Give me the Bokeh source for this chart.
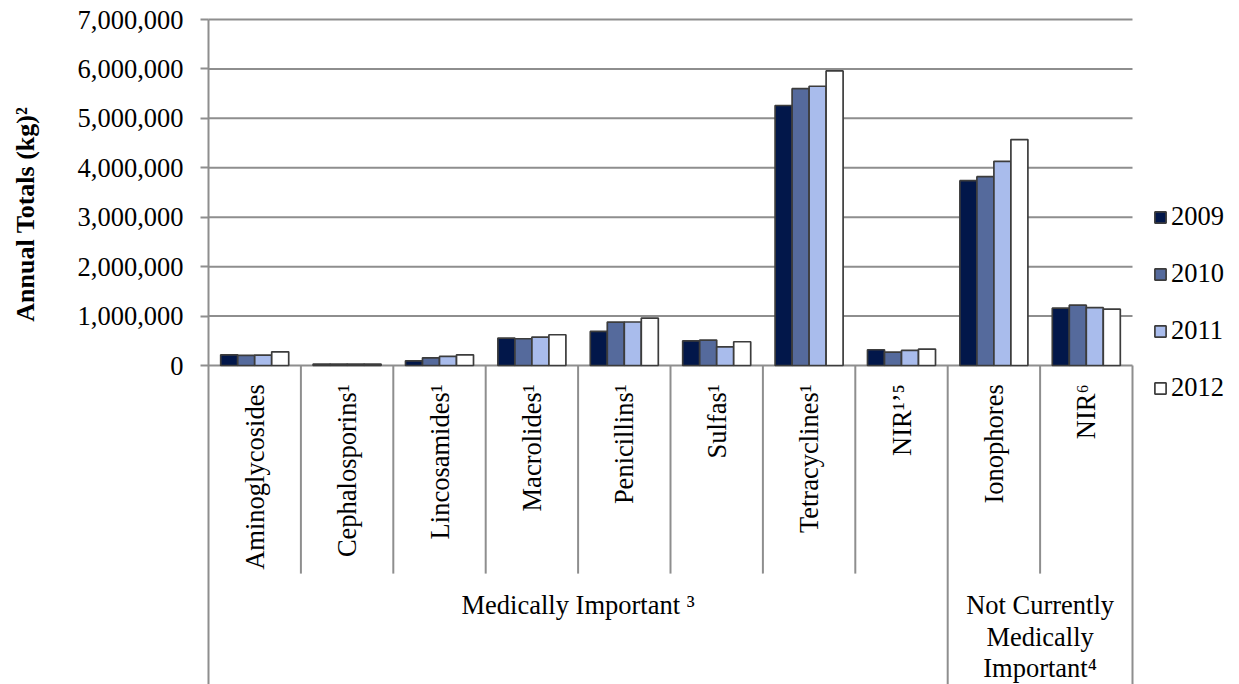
import math
from bokeh.plotting import figure
from bokeh.models import (Range1d, FixedTicker, NumeralTickFormatter,
                          Legend, LegendItem, ColumnDataSource)
from bokeh.core.properties import value
from bokeh.embed import file_html
from bokeh.resources import INLINE

# ---------------- data ----------------
categories = ["Aminoglycosides", "Cephalosporins¹", "Lincosamides¹", "Macrolides¹",
              "Penicillins¹", "Sulfas¹", "Tetracyclines¹", "NIR¹ʼ⁵", "Ionophores", "NIR⁶"]

years = ["2009", "2010", "2011", "2012"]
v2009 = [216000, 28000, 95000, 554000, 690000, 500000, 5260000, 319000, 3740000, 1160000]
v2010 = [203000, 29000, 155000, 541000, 879000, 514000, 5600000, 271000, 3820000, 1220000]
v2011 = [210000, 30000, 183000, 575000, 880000, 377000, 5650000, 305000, 4130000, 1170000]
v2012 = [277000, 29000, 216000, 622000, 960000, 480000, 5960000, 332000, 4570000, 1140000]
series = [v2009, v2010, v2011, v2012]

group_labels = ["Medically Important ³", "Not Currently\nMedically\nImportant⁴"]
group_spans = [(0, 8), (8, 10)]   # category index spans of each group

y_ticks = [0, 1000000, 2000000, 3000000, 4000000, 5000000, 6000000, 7000000]
y_title = "Annual Totals (kg)²"

# ---------------- style / layout ----------------
colors = ["#02174A", "#556A9C", "#A9BCEC", "#FFFFFF"]
edge = "#3C3C3C"
grid_col = "#8E8E8E"
FONT = "Liberation Serif"
FS = "26.5px"

n = len(categories)
W, H = 1239, 684
left_px, top_px, base_px = 208, 19, 365   # plot-area left, 7M line, zero line
cat_px = 92.4                               # one category slot in pixels
px_per_unit_y = (base_px - top_px) / 7000000.0
x_start = -left_px / cat_px
x_end = (W - left_px) / cat_px
y_top = 7000000 + top_px / px_per_unit_y
y_bottom = -(H - base_px) / px_per_unit_y
bar_w = 0.184
offsets = [(-1.5 + i) * bar_w for i in range(4)]
centers = [i + 0.5 for i in range(n)]

p = figure(width=W, height=H, x_range=Range1d(x_start, x_end),
           y_range=Range1d(y_bottom, y_top), output_backend="svg", toolbar_location=None,
           min_border=0, min_border_left=0, min_border_right=0, min_border_top=0,
           min_border_bottom=0)
p.outline_line_color = None
p.background_fill_color = "white"
p.border_fill_color = "white"

# horizontal gridlines over the category area only
p.xgrid.visible = False
p.ygrid.visible = False
p.segment(x0=[0] * len(y_ticks), x1=[n] * len(y_ticks), y0=y_ticks, y1=y_ticks,
          line_color=grid_col, line_width=2)

renderers = []
for y, s, off, c in zip(years, series, offsets, colors):
    src = ColumnDataSource(dict(x=[cx + off for cx in centers], top=s))
    r = p.vbar(x="x", top="top", width=bar_w, bottom=0, source=src,
               fill_color=c, line_color=edge, line_width=1.7)
    renderers.append(r)

# axes
p.xaxis.visible = False
ya = p.yaxis[0]
ya.fixed_location = 0
ya.bounds = (y_bottom, 7000000)
ya.ticker = FixedTicker(ticks=y_ticks)
ya.formatter = NumeralTickFormatter(format="0,0")
ya.major_label_text_font = FONT
ya.major_label_text_font_size = FS
ya.major_label_text_color = "black"
ya.major_label_standoff = 17
ya.major_tick_out = 8
ya.major_tick_in = 0
ya.minor_tick_out = 0
ya.minor_tick_in = 0
ya.axis_line_color = grid_col
ya.axis_line_width = 2
ya.major_tick_line_color = grid_col
ya.major_tick_line_width = 2

# category separators below the baseline
group_edges = sorted(set([e for s in group_spans for e in s]))
inner = [k for k in range(1, n) if k not in group_edges]
outer = [k for k in group_edges if k > 0]
sep_short = -4210000
p.segment(x0=inner, x1=inner, y0=[0] * len(inner), y1=[sep_short] * len(inner),
          line_color=grid_col, line_width=2)
p.segment(x0=outer, x1=outer, y0=[0] * len(outer), y1=[y_bottom] * len(outer),
          line_color=grid_col, line_width=2)

# rotated category labels
p.text(x=centers, y=[-380000] * n, text=categories, angle=math.pi / 2,
       text_align="right", text_baseline="middle", text_font=value(FONT),
       text_font_size=FS, text_color="black")

# group labels
gx = [(a + b) / 2 for a, b in group_spans]
p.text(x=gx, y=[-4550000] * len(gx), text=group_labels, text_align="center",
       text_baseline="top", text_font=value(FONT), text_font_size=FS,
       text_color="black", text_line_height=1.05)

# y axis title
p.text(x=[-183 / cat_px], y=[3060000], text=[y_title], angle=math.pi / 2,
       text_align="center", text_baseline="middle", text_font=value(FONT),
       text_font_style="bold", text_font_size="26px", text_color="black")

# legend
legend = Legend(items=[LegendItem(label=y, renderers=[r]) for y, r in zip(years, renderers)],
                location=(1153, 281), orientation="vertical", padding=0, margin=0,
                spacing=26, glyph_width=14, glyph_height=14, label_standoff=4,
                label_text_font=FONT, label_text_font_size=FS, label_text_color="black",
                border_line_color=None, background_fill_alpha=0)
p.add_layout(legend, "center")

open("out.html", "w").write(file_html(p, INLINE))
